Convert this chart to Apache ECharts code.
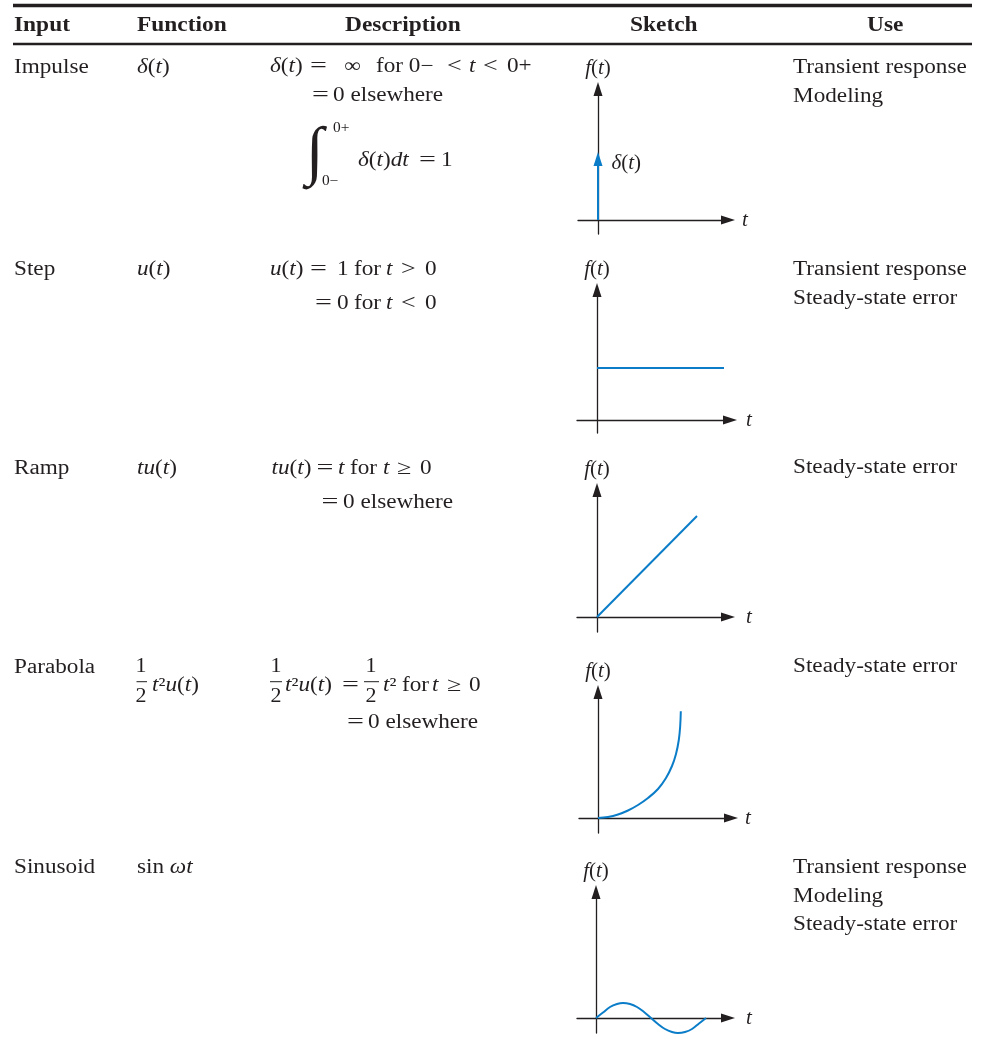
<!DOCTYPE html>
<html>
<head>
<meta charset="utf-8">
<script src="https://cdn.jsdelivr.net/npm/echarts@6/dist/echarts.min.js"></script>
<style>html,body{margin:0;padding:0;background:#fff}#c{width:982px;height:1052px}</style>
</head>
<body>
<div id="c"></div>
<script>
// ---------- data ----------
const headers = ['Input', 'Function', 'Description', 'Sketch', 'Use'];
const inputs = ['Impulse', 'Step', 'Ramp', 'Parabola', 'Sinusoid'];
const uses = [
  ['Transient response', 'Modeling'],
  ['Transient response', 'Steady-state error'],
  ['Steady-state error'],
  ['Steady-state error'],
  ['Transient response', 'Modeling', 'Steady-state error']
];
// sketch curves (t, f(t)) in sketch units
const impulseData = [[0, 0], [0, 61]];
const stepData = [[0, 52], [127, 52]];
const rampData = [[0, 0], [100, 101]];
const parabolaData = [[0, 0], [10, 1], [20, 3.5], [30, 7.5], [40, 13], [50, 20], [60, 29], [68, 40],
  [74, 52], [78, 64], [80.8, 78], [82.2, 92], [82.8, 106.7]];
const sinusoidData = [[0, 0], [7, 5.5], [14, 11], [21, 14], [27, 15], [34, 14], [41, 11], [48, 6], [55, 0],
  [62, -6], [69, -11], [76, -14], [82, -15], [89, -14], [96, -11], [103, -5.5], [110, 0]];
const sketchData = [impulseData, stepData, rampData, parabolaData, sinusoidData];

// ---------- layout ----------
const INK = '#231f20';
const BLUE = '#0b7dc8';
const SERIF = "'Liberation Serif', 'Times New Roman', serif";
const SX = 1.16;
const OPS = {'=': 1.5, '<': 1.3, '>': 1.3, '≥': 1.3};
// sketch frames: origin (ox, oy), left end, arrow tip right, arrow tip top, bottom end, t-label gap
const frames = [
  {ox: 598, oy: 220, xl: 578, xt: 735, yt: 82, yb: 234, g: 14},
  {ox: 597, oy: 420, xl: 577, xt: 737, yt: 283, yb: 433, g: 16},
  {ox: 597, oy: 617, xl: 577, xt: 735, yt: 483, yb: 632, g: 18},
  {ox: 598, oy: 818, xl: 579, xt: 738, yt: 685, yb: 833, g: 14},
  {ox: 596, oy: 1018, xl: 577, xt: 735, yt: 885, yb: 1033, g: 18}
];
const AH = 14; // arrow length
const rowY = [67.5, 269.5, 468.5, 668, 867.5];
const useY = [68, 270, 468, 667, 868];

function mkRich(size) {
  return {
    i: {fontStyle: 'italic', fontFamily: SERIF, fontSize: size, fill: INK, color: INK},
    n: {fontStyle: 'normal', fontFamily: SERIF, fontSize: size, fill: INK, color: INK}
  };
}

function txt(x, y, text, o) {
  o = o || {};
  const size = o.size || 20;
  return {
    type: 'text', x: x, y: y, scaleX: o.sx || SX, silent: true,
    style: {
      text: text, x: 0, y: 0, fill: INK,
      fontFamily: SERIF, fontSize: size,
      fontWeight: o.bold ? 'bold' : 'normal',
      fontStyle: o.italic ? 'italic' : 'normal',
      align: o.align || 'left', textAlign: o.align || 'left',
      verticalAlign: 'middle', textVerticalAlign: 'middle',
      rich: mkRich(size)
    }
  };
}
function seq(y, pieces) {
  pieces.forEach(p => graphics.push(txt(p[0], y, p[1], OPS[p[1]] ? {sx: OPS[p[1]]} : {})));
}
function hline(x1, x2, y, w) {
  return {type: 'line', silent: true, shape: {x1: x1, y1: y, x2: x2, y2: y}, style: {stroke: INK, lineWidth: w}};
}
function frac(cx, x1, x2) {
  graphics.push(txt(cx, 666.5, '1', {align: 'center', sx: 1.1}));
  graphics.push(txt(cx, 696.5, '2', {align: 'center', sx: 1.1}));
  graphics.push(hline(x1, x2, 681.7, 1));
}

const graphics = [];
// rules
graphics.push(hline(13, 972, 5.5, 3.5));
graphics.push(hline(13, 972, 44, 2.5));
// headers
const headerX = [14, 137, 345, 630, 867];
headers.forEach((h, k) => graphics.push(txt(headerX[k], 26, h, {bold: true, sx: 1.17})));
// input column
inputs.forEach((s, k) => graphics.push(txt(14, rowY[k], s)));
// use column
uses.forEach((arr, k) => arr.forEach((s, j) => graphics.push(txt(793, useY[k] + j * 28.6, s))));

// function column
graphics.push(txt(137, rowY[0], '{i|δ}({i|t})'));
graphics.push(txt(137, rowY[1], '{i|u}({i|t})'));
graphics.push(txt(137, rowY[2], '{i|tu}({i|t})'));
frac(141, 136.5, 147);
graphics.push(txt(152, 686, '{i|t}²{i|u}({i|t})'));
graphics.push(txt(137, rowY[4], 'sin {i|ωt}'));

// description column
seq(67, [[270, '{i|δ}({i|t})'], [310, '='], [344, '∞'], [376, 'for 0−'], [447, '<'], [469, '{i|t}'], [483, '<'], [507, '0+']]);
seq(96, [[312, '='], [333, '0 elsewhere']]);
graphics.push(txt(315, 154.5, '∫', {size: 65, align: 'center', sx: 1}));
graphics.push(txt(333, 128, '0+', {size: 14, sx: 1.1}));
graphics.push(txt(322, 181, '0−', {size: 14, sx: 1.1}));
seq(161, [[358, '{i|δ}({i|t}){i|dt}'], [419, '='], [441, '1']]);

seq(269.5, [[270, '{i|u}({i|t})'], [310, '='], [337, '1'], [354, 'for'], [386, '{i|t}'], [401, '>'], [425, '0']]);
seq(304, [[315, '='], [337, '0'], [354, 'for'], [386, '{i|t}'], [401, '<'], [425, '0']]);

seq(468.5, [[271.5, '{i|tu}({i|t})'], [316.5, '='], [338, '{i|t}'], [350, 'for'], [383, '{i|t}'], [397, '≥'], [420, '0']]);
seq(503, [[321.5, '='], [343, '0 elsewhere']]);

frac(276, 270, 282);
seq(686, [[285, '{i|t}²{i|u}({i|t})'], [342, '=']]);
frac(371, 364, 379);
seq(686, [[383, '{i|t}²'], [402, 'for'], [432, '{i|t}'], [447, '≥'], [469, '0']]);
seq(723, [[347, '='], [368, '0 elsewhere']]);

// ---------- sketches ----------
const grids = [], xAxes = [], yAxes = [], series = [];
const nameRich = mkRich(21);
frames.forEach((f, k) => {
  const xr = f.xt - AH / 2, yt = f.yt + AH / 2;
  grids.push({left: f.xl, top: yt, width: xr - f.xl, height: f.yb - yt, containLabel: false});
  const axisLine = {show: true, onZero: true, symbol: ['none', 'triangle'], symbolSize: [9, AH],
    lineStyle: {color: INK, width: 1.3}};
  xAxes.push({type: 'value', gridIndex: k, min: f.xl - f.ox, max: xr - f.ox,
    axisLine: axisLine, axisTick: {show: false}, axisLabel: {show: false}, splitLine: {show: false},
    name: '{i|t}', nameLocation: 'end', nameGap: f.g,
    nameTextStyle: {fontFamily: SERIF, fontSize: 21, color: INK, verticalAlign: 'middle', rich: nameRich}});
  yAxes.push({type: 'value', gridIndex: k, min: -(f.yb - f.oy), max: f.oy - yt,
    axisLine: axisLine, axisTick: {show: false}, axisLabel: {show: false}, splitLine: {show: false},
    name: '{i|f}({i|t})', nameLocation: 'end', nameGap: 10,
    nameTextStyle: {fontFamily: SERIF, fontSize: 21, color: INK, rich: nameRich}});
  const data = sketchData[k].map((p, j) => {
    if (k === 0 && j === sketchData[k].length - 1) {
      return {value: p, label: {show: true, position: 'right', distance: 9, offset: [0, 4],
        fontFamily: SERIF, fontSize: 21, color: INK,
        formatter: '{i|δ}({i|t})', rich: mkRich(21)}};
    }
    return p;
  });
  series.push({
    type: 'line', xAxisIndex: k, yAxisIndex: k, data: data,
    smooth: k >= 3 ? 0.4 : false,
    clip: false, silent: true,
    symbol: k === 0 ? function (v, p) { return p.dataIndex === 1 ? 'triangle' : 'none'; } : 'none',
    symbolSize: [9, AH], showSymbol: k === 0,
    itemStyle: {color: BLUE},
    lineStyle: {color: BLUE, width: 2},
    label: {show: false}
  });
});

const chart = echarts.init(document.getElementById('c'), null, {renderer: 'canvas'});
chart.setOption({
  animation: false,
  backgroundColor: '#fff',
  grid: grids, xAxis: xAxes, yAxis: yAxes, series: series,
  graphic: {elements: graphics}
});
</script>
</body>
</html>
